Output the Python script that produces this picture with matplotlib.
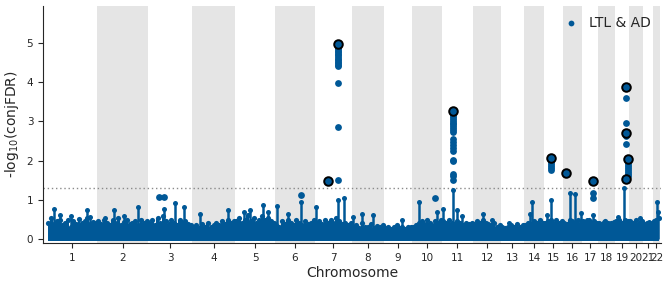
import matplotlib
matplotlib.use("Agg")
import matplotlib.pyplot as plt
import numpy as np

# Chromosome sizes on the plot's x axis (arbitrary genome units)
CHROMS = [str(c) for c in range(1, 23)]
CHROM_LEN = [50, 51, 44, 43, 40, 40, 37, 32, 28, 30, 31, 28, 23, 20, 19, 19, 16, 17, 14, 14, 10, 7]

# Top of the dense background cloud, sampled evenly along each chromosome
BASE_TOP = [
    [0.42, 0.55, 0.38, 0.45, 0.50, 0.35, 0.42, 0.48, 0.30, 0.45, 0.38, 0.52, 0.40, 0.46, 0.55, 0.38, 0.44, 0.40],
    [0.45, 0.38, 0.50, 0.42, 0.35, 0.48, 0.40, 0.55, 0.36, 0.44, 0.50, 0.38, 0.42, 0.47, 0.35, 0.50, 0.40, 0.45],
    [0.40, 0.50, 0.36, 0.55, 0.42, 0.60, 0.45, 0.38, 0.50, 0.42, 0.35, 0.48, 0.40, 0.45, 0.38, 0.35],
    [0.30, 0.35, 0.28, 0.38, 0.32, 0.40, 0.30, 0.36, 0.42, 0.35, 0.45, 0.38, 0.50, 0.42, 0.46],
    [0.45, 0.55, 0.40, 0.50, 0.62, 0.45, 0.55, 0.42, 0.50, 0.60, 0.48, 0.55, 0.45, 0.40],
    [0.35, 0.30, 0.45, 0.38, 0.50, 0.42, 0.36, 0.48, 0.40, 0.35, 0.45, 0.38, 0.42, 0.50],
    [0.40, 0.45, 0.38, 0.50, 0.42, 0.48, 0.40, 0.55, 0.45, 0.38, 0.42, 0.35, 0.40],
    [0.30, 0.35, 0.28, 0.40, 0.32, 0.30, 0.38, 0.28, 0.33, 0.30, 0.35],
    [0.28, 0.32, 0.25, 0.30, 0.35, 0.28, 0.30, 0.25, 0.32, 0.30],
    [0.30, 0.35, 0.40, 0.45, 0.38, 0.50, 0.42, 0.35, 0.45, 0.40, 0.48],
    [0.45, 0.40, 0.50, 0.42, 0.38, 0.45, 0.40, 0.35, 0.42, 0.38, 0.40],
    [0.38, 0.45, 0.40, 0.48, 0.42, 0.38, 0.35, 0.40, 0.32, 0.35],
    [0.30, 0.28, 0.32, 0.35, 0.30, 0.38, 0.32, 0.35],
    [0.35, 0.42, 0.38, 0.45, 0.40, 0.48, 0.42],
    [0.40, 0.45, 0.50, 0.42, 0.48, 0.40, 0.45],
    [0.42, 0.38, 0.50, 0.45, 0.40, 0.48, 0.42],
    [0.45, 0.40, 0.50, 0.42, 0.46, 0.40],
    [0.40, 0.38, 0.45, 0.42, 0.40, 0.44],
    [0.45, 0.50, 0.42, 0.48, 0.45],
    [0.45, 0.40, 0.50, 0.42, 0.46],
    [0.38, 0.42, 0.36, 0.40],
    [0.45, 0.50, 0.55],
]

# Narrow spikes rising out of the cloud: chromosome, position in chromosome, top value
SPIKE_CHR = [1, 1, 1, 1, 1, 2, 2, 2, 2, 3, 3, 3, 4, 4, 5, 5, 5, 5, 6, 6, 6, 7, 7, 7,
             8, 8, 8, 9, 10, 10, 11, 11, 11, 11, 12, 12, 13, 14, 14, 15, 15, 16, 16, 16,
             17, 17, 18, 19, 19, 20, 21, 22, 22]
SPIKE_POS = [7, 13, 24, 40, 43, 8, 17, 27, 41, 16, 27, 36, 8, 36, 9, 15, 28, 33, 2, 13, 26, 1, 23, 29,
             1, 10, 21, 18, 7, 25, 1, 11, 15, 20, 10, 19, 8, 6, 8, 3, 7, 7, 12, 18,
             5, 11, 6, 3, 9, 11, 6, 4, 5]
SPIKE_TOP = [0.76, 0.62, 0.58, 0.74, 0.57, 0.55, 0.74, 0.60, 0.82, 0.78, 0.91, 0.81, 0.65, 0.74,
             0.70, 0.74, 0.87, 0.70, 0.84, 0.65, 0.95, 0.82, 1.00, 1.05, 0.57, 0.64, 0.61, 0.50,
             0.95, 0.70, 0.78, 1.25, 0.74, 0.58, 0.65, 0.50, 0.40, 0.65, 0.94, 0.61, 1.00, 1.18,
             1.14, 0.67, 0.50, 0.61, 0.44, 0.57, 1.29, 0.53, 0.44, 0.95, 0.70]

# Individual SNPs standing clear of the cloud
PT_CHR = [3, 3, 6, 10] + [7] * 17 + [11] * 21 + [15] * 6 + [17] * 2 + [19] * 12
PT_POS = [11, 16, 26, 23] + [23] * 17 + [11] * 21 + [7] * 6 + [11] * 2 + [11] * 4 + [13] * 8
PT_VAL = [1.08, 1.08, 1.12, 1.06,
          4.92, 4.88, 4.84, 4.80, 4.76, 4.72, 4.68, 4.64, 4.60, 4.56, 4.52, 4.48, 4.44, 4.40, 3.98, 2.86, 1.50,
          3.22, 3.17, 3.12, 3.07, 3.02, 2.97, 2.92, 2.87, 2.82, 2.77, 2.73, 2.55, 2.48, 2.40, 2.32, 2.25,
          2.02, 1.98, 1.67, 1.60, 1.50,
          2.02, 1.97, 1.92, 1.87, 1.82, 1.77,
          1.18, 1.05,
          3.60, 2.95, 2.63, 2.42, 1.98, 1.92, 1.85, 1.80, 1.75, 1.70, 1.65, 1.60]

# Lead SNPs (circled)
LEAD_CHR = [7, 7, 11, 15, 16, 17, 19, 19, 19, 19]
LEAD_POS = [23, 13, 11, 7, 3, 11, 11, 11, 11, 13]
LEAD_VAL = [4.97, 1.49, 3.27, 2.07, 1.68, 1.47, 3.87, 2.70, 1.52, 2.03]

THRESHOLD = -np.log10(0.05)
BLUE = "#005897"
GREY = "#e5e5e5"
TXT = "#262626"

starts = np.concatenate([[0], np.cumsum(CHROM_LEN)[:-1]])
ends = starts + np.array(CHROM_LEN)
centers = (starts + ends) / 2.0


def genome_x(chrs, pos):
    return np.array([starts[c - 1] + p for c, p in zip(chrs, pos)], dtype=float)


fig = plt.figure(figsize=(6.69, 2.81), dpi=100)
ax = fig.add_axes([0.0643, 0.135, 0.9237, 0.844])

# alternating chromosome shading
for i in range(len(CHROMS)):
    if i % 2 == 1:
        ax.axvspan(starts[i], ends[i], color=GREY, lw=0, zorder=0)

ax.axhline(THRESHOLD, color="#8a8a8a", lw=1, ls=(0, (1, 2)), zorder=1)

# dense background cloud
bx, by = [], []
for i, tops in enumerate(BASE_TOP):
    n = len(tops)
    step = CHROM_LEN[i] / n
    bx.extend(starts[i] + step * (np.arange(n) + 0.5))
    by.extend(tops)
bx = np.array(bx)
by = np.array(by)
ax.fill_between(bx, -0.05, by, step="mid", color=BLUE, lw=0, zorder=2)
ax.scatter(bx, by, s=14, color=BLUE, lw=0, zorder=2)

# spikes
sx = genome_x(SPIKE_CHR, SPIKE_POS)
ax.vlines(sx, 0, SPIKE_TOP, color=BLUE, lw=1.8, zorder=2)
ax.scatter(sx, SPIKE_TOP, s=13, color=BLUE, lw=0, zorder=2)

# separate points
px = genome_x(PT_CHR, PT_POS)
ax.scatter(px, PT_VAL, s=24, color=BLUE, lw=0, zorder=3, label="LTL & AD")

# lead SNPs
lx = genome_x(LEAD_CHR, LEAD_POS)
ax.scatter(lx, LEAD_VAL, s=38, color=BLUE, edgecolor="black", lw=1.4, zorder=4)

ax.set_xlim(-4, 614)
ax.set_ylim(-0.1, 5.94)
ax.set_xticks(centers)
ax.set_xticklabels(CHROMS)
ax.set_yticks(range(6))
ax.tick_params(labelsize=7.5, colors=TXT, length=3.5, width=0.8)
for s in ["top", "right"]:
    ax.spines[s].set_visible(False)
for s in ["left", "bottom"]:
    ax.spines[s].set_color(TXT)
    ax.spines[s].set_linewidth(0.8)

ax.set_xlabel("Chromosome", fontsize=10, color=TXT, labelpad=2)
ax.set_ylabel(r"-log$_{10}$(conjFDR)", fontsize=10, color=TXT, labelpad=4)

leg = ax.legend(loc="upper right", frameon=False, fontsize=10, handletextpad=0.3,
                markerscale=0.85, borderaxespad=0.3)
for t in leg.get_texts():
    t.set_color(TXT)

fig.savefig("out.png", dpi=100)
